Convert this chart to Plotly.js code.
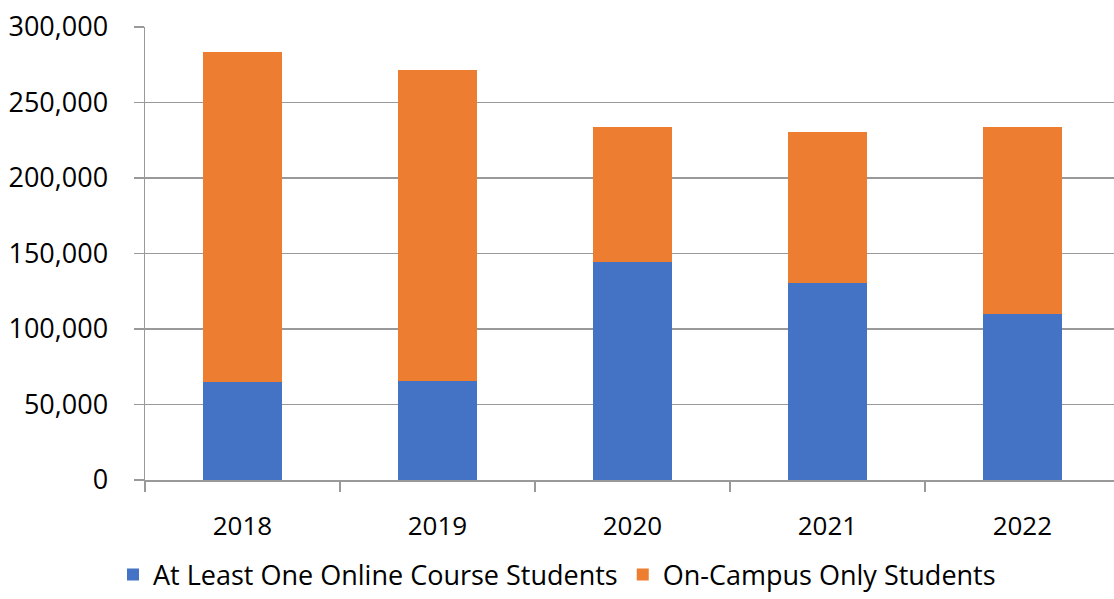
<!DOCTYPE html>
<html>
<head>
<meta charset="utf-8">
<script src="https://cdn.plot.ly/plotly-3.0.1.min.js"></script>
<style>html,body{margin:0;padding:0;background:#fff;}#chart{width:1114px;height:599px;}</style>
</head>
<body>
<div id="chart"></div>
<script>
const years = ["2018", "2019", "2020", "2021", "2022"];
const onlineStudents = [65100, 65800, 144400, 130700, 110200];
const onCampusOnlyStudents = [218400, 205700, 89600, 99800, 123800];
const seriesNames = ["At Least One Online Course Students", "On-Campus Only Students"];
const yTicks = [0, 50000, 100000, 150000, 200000, 250000, 300000];

const font = "'Open Sans', 'Noto Sans', sans-serif";
const traces = [
  {type: "bar", name: seriesNames[0], x: years, y: onlineStudents, marker: {color: "#4472C4"}},
  {type: "bar", name: seriesNames[1], x: years, y: onCampusOnlyStudents, marker: {color: "#ED7D31"}}
];
const layout = {
  width: 1114, height: 599,
  margin: {l: 145, r: 0, t: 27, b: 119, autoexpand: false},
  barmode: "stack",
  bargap: 0.595,
  paper_bgcolor: "#fff", plot_bgcolor: "#fff",
  font: {family: font, color: "#000", size: 26},
  xaxis: {
    type: "category", range: [-0.5, 4.47],
    showline: true, linecolor: "#999", linewidth: 1.5,
    ticks: "outside", tickson: "boundaries", ticklen: 10, tickcolor: "#999", tickwidth: 1.5,
    tickfont: {size: 26, family: font}, ticklabelstandoff: 22,
    showgrid: false, zeroline: false
  },
  yaxis: {
    range: [0, 300000], tickvals: yTicks, tickformat: ",d",
    showline: true, linecolor: "#999", linewidth: 1.5,
    ticks: "outside", ticklen: 10, tickcolor: "#999", tickwidth: 1.5,
    showgrid: true, gridcolor: "#999", gridwidth: 1.5,
    tickfont: {size: 27, family: font}, ticklabelstandoff: 20,
    zeroline: false
  },
  legend: {
    orientation: "h", traceorder: "normal",
    x: 0.5, xref: "container", xanchor: "center",
    y: 0.04, yref: "container", yanchor: "middle",
    font: {size: 27, family: font}, itemwidth: 30, tracegroupgap: 0
  },
  showlegend: true
};
Plotly.newPlot("chart", traces, layout, {displayModeBar: false, staticPlot: true});
</script>
</body>
</html>
